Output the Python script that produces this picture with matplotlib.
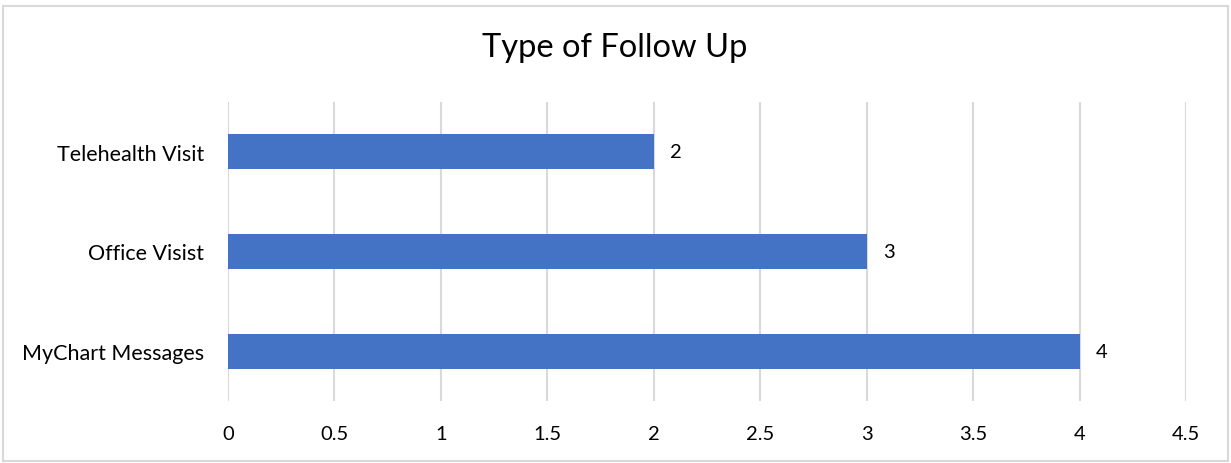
import matplotlib.pyplot as plt
from matplotlib.patches import Rectangle

categorias = ['MyChart Messages', 'Office Visist', 'Telehealth Visit']
valores = [4, 3, 2]
ticks_x = [0, 0.5, 1, 1.5, 2, 2.5, 3, 3.5, 4, 4.5]
etiquetas_x = ['0', '0.5', '1', '1.5', '2', '2.5', '3', '3.5', '4', '4.5']

plt.rcParams['font.family'] = ['Lato', 'DejaVu Sans']

fig = plt.figure(figsize=(12.31, 4.64), dpi=100)
# marco gris del grafico
fig.patches.append(Rectangle((3 / 1231, 2 / 464), 1225 / 1231, 455 / 464,
                             transform=fig.transFigure, fill=False,
                             edgecolor='#d9d9d9', linewidth=1.5))

ax = fig.add_axes([228 / 1231, 1 - 402 / 464, 958 / 1231, 299 / 464])
pos = list(range(len(categorias)))
ax.barh(pos, valores, height=0.35, color='#4472c4', zorder=3)
for p, v in zip(pos, valores):
    ax.annotate(str(v), (v, p), xytext=(12, 0), textcoords='offset points',
                va='center', ha='left', fontsize=14.5)

ax.set_xlim(0, 4.5)
ax.set_ylim(-0.5, 2.5)
ax.set_xticks(ticks_x)
ax.set_xticklabels(etiquetas_x, fontsize=14.5)
ax.set_yticks(pos)
ax.set_yticklabels(categorias, fontsize=15.5)
ax.tick_params(length=0, pad=17)
ax.tick_params(axis='x', pad=17)
ax.grid(axis='x', color='#d9d9d9', linewidth=1.5, zorder=0)
for s in ax.spines.values():
    s.set_visible(False)

fig.text(615 / 1231, 1 - 48 / 464, 'Type of Follow Up', ha='center', va='center',
         fontsize=23.5, color='#000000')

fig.savefig('out.png', dpi=100)
